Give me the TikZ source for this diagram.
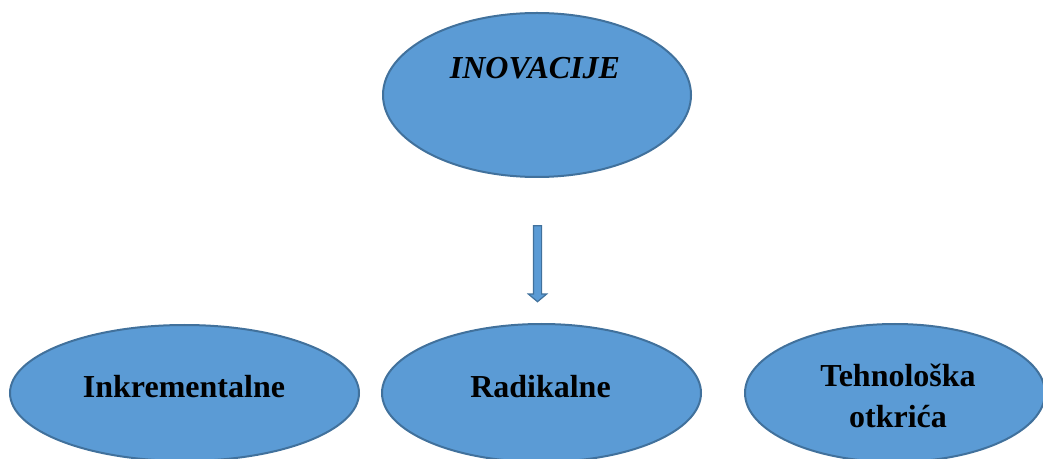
\documentclass[tikz,border=0pt]{standalone}
\usepackage{fontspec}
\setmainfont{Liberation Serif}
\usetikzlibrary{shapes,arrows,positioning}
\definecolor{ovalfill}{HTML}{5B9BD5}
\definecolor{ovaldraw}{HTML}{41719C}

\begin{document}
\begin{tikzpicture}[
    x=0.5pt, y=-0.5pt,
    oval/.style={
        ellipse, draw=ovaldraw, fill=ovalfill,
        line width=1pt, inner sep=0pt
    },
    tekst/.style={
        font=\fontsize{16}{20.5}\selectfont\bfseries,
        inner sep=0pt, anchor=base, align=center
    },
    strelica/.style={
        single arrow, draw=ovaldraw, fill=ovalfill,
        line width=0.6pt, inner xsep=0pt, inner ysep=1.75pt,
        minimum height=38pt, minimum width=0pt,
        single arrow head extend=2.5pt,
        single arrow tip angle=100
    }
]
\useasboundingbox (0,0) rectangle (1043,459);

\node[oval, minimum width=154pt, minimum height=82pt] (inovacije) at (537,95) {};
\node[oval, minimum width=174.5pt, minimum height=68pt] (inkrementalne) at (184.5,393) {};
\node[oval, minimum width=159.5pt, minimum height=69pt] (radikalne) at (541.5,393) {};
\node[oval, minimum width=150pt, minimum height=69pt] (otkrica) at (895,393) {};

\node[tekst, font=\fontsize{16}{20.5}\selectfont\bfseries\itshape] (t-inovacije) at (535,79) {INOVACIJE};
\node[tekst] (t-inkrementalne) at (184,397) {Inkrementalne};
\node[tekst] (t-radikalne) at (540.5,397) {Radikalne};
\node[tekst] (t-otkrica) at (898,427) {Tehnološka\\otkrića};

\node[strelica, rotate=-90] (strelica) at (537.5,262) {};
\end{tikzpicture}
\end{document}
